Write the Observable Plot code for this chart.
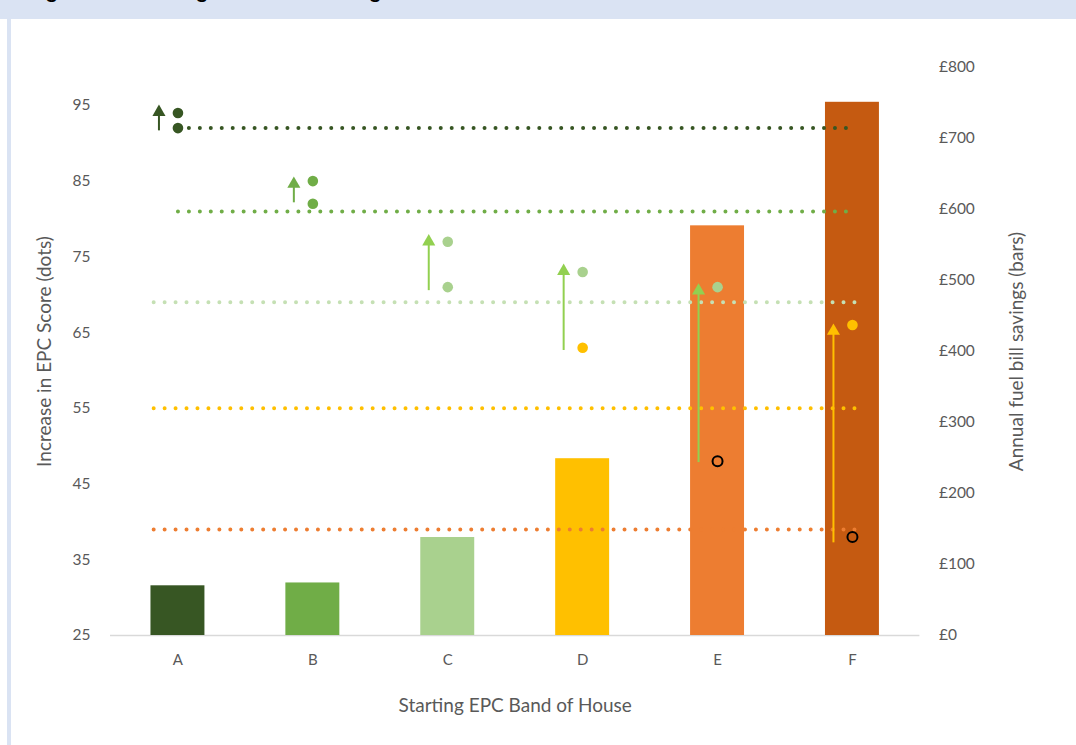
<!DOCTYPE html>
<html>
<head>
<meta charset="utf-8">
<script src="https://cdn.jsdelivr.net/npm/d3@7"></script>
<script src="https://cdn.jsdelivr.net/npm/@observablehq/plot@0.6"></script>
<style>
  html, body { margin: 0; padding: 0; background: #fff; }
  body { width: 1076px; height: 745px; overflow: hidden; position: relative; font-family: Lato, "Open Sans", sans-serif; }
  #header { position: relative; height: 19px; background: #dae3f3; overflow: hidden; }
  #header span { position: absolute; left: 30px; top: -20px; font: bold 20px Lato, sans-serif; line-height: 20px; color: #000; white-space: nowrap; }
  #stripe { position: absolute; left: 7px; top: 19px; width: 4px; height: 726px; background: #dae3f3; z-index: 2; }
  #chart svg { display: block; }
</style>
</head>
<body>
<div id="header"><span>Figure 6: EPC change and annual savings</span></div>
<div id="stripe"></div>
<div id="chart"></div>
<script>
// ---- data ----
const bands = ["A", "B", "C", "D", "E", "F"];
const savings = [70, 74, 138, 249, 577, 751];           // £ per year (bars, right axis)
const scoreBefore = [92, 82, 71, 63, 48, 38];           // EPC score before (lower dot)
const scoreAfter = [94, 85, 77, 73, 71, 66];            // EPC score after (upper dot)
const bandBefore = ["A", "B", "C", "D", "E", "F"];
const bandAfter = ["A", "B", "C", "C", "C", "D"];
const arrowFrom = [91.7, 82.2, 70.6, 62.7, 47.9, 37.3];
const arrowTo = [95.1, 85.6, 78.0, 74.1, 71.5, 66.2];
const thresholds = [92, 81, 69, 55, 39];                // EPC band lower bounds
const thresholdBands = ["A", "B", "C", "D", "E"];
const leftTicks = [25, 35, 45, 55, 65, 75, 85, 95];
const rightTicks = [0, 100, 200, 300, 400, 500, 600, 700, 800];
const xTitle = "Starting EPC Band of House";
const yLeftTitle = "Increase in EPC Score (dots)";
const yRightTitle = "Annual fuel bill savings (bars)";

// ---- styles ----
const barColor = {A: "#375623", B: "#70ad47", C: "#a9d18e", D: "#ffc000", E: "#ed7d31", F: "#c55a11"};
const lineColor = {A: "#375623", B: "#70ad47", C: "#c5e0b4", D: "#ffc000", E: "#ed7d31"};
const arrowColor = {A: "#375623", B: "#70ad47", C: "#92d050", D: "#ffc000"};
const dotColor = {A: "#375623", B: "#70ad47", C: "#a9d18e", D: "#ffc000"};

// right axis (£0..£800) shares the frame with left axis (25..100)
const leftMin = 25, leftMax = 100, rightMax = 800;
const toLeft = v => leftMin + v * (leftMax - leftMin) / rightMax;
const fromLeft = y => (y - leftMin) * rightMax / (leftMax - leftMin);

const rows = bands.map((b, i) => ({
  i, band: b, saving: savings[i],
  before: scoreBefore[i], after: scoreAfter[i],
  bBefore: bandBefore[i], bAfter: bandAfter[i],
  aFrom: arrowFrom[i], aTo: arrowTo[i]
}));
const lines = thresholds.map((t, k) => ({t, band: thresholdBands[k], start: k < 2 ? 0 : -0.18}));
const halfBar = 0.2;
const headPx = 7.5;
const font = "Lato, 'Open Sans', sans-serif";

const plot = Plot.plot({
  width: 1076,
  height: 726,
  marginTop: 48,
  marginBottom: 110,
  marginLeft: 110,
  marginRight: 156.6,
  style: {background: "transparent", color: "#595959", fontFamily: font, fontSize: "15.5px"},
  x: {domain: [-0.5, bands.length - 0.5], axis: null},
  y: {domain: [leftMin, leftMax], axis: null},
  marks: [
    Plot.ruleY([leftMin], {x1: -0.5, x2: bands.length - 0.5, stroke: "#d9d9d9", strokeWidth: 1.5}),
    Plot.rectY(rows, {
      x1: d => d.i - halfBar, x2: d => d.i + halfBar,
      y1: leftMin, y2: d => toLeft(d.saving),
      fill: d => barColor[d.band]
    }),
    Plot.link(lines, {
      x1: d => d.start, x2: bands.length - 1 + 0.03, y1: "t", y2: "t",
      stroke: d => lineColor[d.band], strokeWidth: 4,
      strokeDasharray: "0 10.95", strokeLinecap: "round"
    }),
    // arrows: shaft + filled triangle head
    Plot.link(rows, {
      x1: "i", x2: "i", y1: "aFrom",
      y2: d => d.aTo - headPx * 1.1 / (568 / (leftMax - leftMin)),
      stroke: d => arrowColor[d.bAfter], strokeWidth: 2, dx: -19
    }),
    Plot.dot(rows, {
      x: "i", y: "aTo", symbol: "triangle", r: 4.85,
      fill: d => arrowColor[d.bAfter], stroke: "none", dx: -19, dy: headPx
    }),
    // dots
    Plot.dot(rows, {x: "i", y: "after", r: 5.3, fill: d => dotColor[d.bAfter], stroke: "none"}),
    Plot.dot(rows.filter(d => dotColor[d.bBefore]), {x: "i", y: "before", r: 5.3, fill: d => dotColor[d.bBefore], stroke: "none"}),
    Plot.dot(rows.filter(d => !dotColor[d.bBefore]), {x: "i", y: "before", r: 5, fill: "none", stroke: "#000", strokeWidth: 2}),
    // axes
    Plot.axisY(leftTicks, {anchor: "left", tickSize: 0, tickPadding: 20, fontSize: 15.5, label: null}),
    Plot.axisY(rightTicks.map(toLeft), {
      anchor: "right", tickSize: 0, tickPadding: 19, fontSize: 15.5, label: null,
      tickFormat: y => "£" + Math.round(fromLeft(y) / 100) * 100
    }),
    Plot.axisX(d3.range(bands.length), {anchor: "bottom", tickSize: 0, tickPadding: 19, fontSize: 15, label: null, tickFormat: i => bands[i]}),
    // axis titles
    Plot.text([yLeftTitle], {frameAnchor: "left", dx: -66, rotate: -90, textAnchor: "middle", lineAnchor: "middle", fontSize: 19, fill: "#595959", text: d => d}),
    Plot.text([yRightTitle], {frameAnchor: "right", dx: 97, rotate: -90, textAnchor: "middle", lineAnchor: "middle", fontSize: 19, fill: "#595959", text: d => d}),
    Plot.text([xTitle], {frameAnchor: "bottom", dy: 70, textAnchor: "middle", lineAnchor: "middle", fontSize: 19, fill: "#595959", text: d => d})
  ]
});
document.getElementById("chart").appendChild(plot);
</script>
</body>
</html>
